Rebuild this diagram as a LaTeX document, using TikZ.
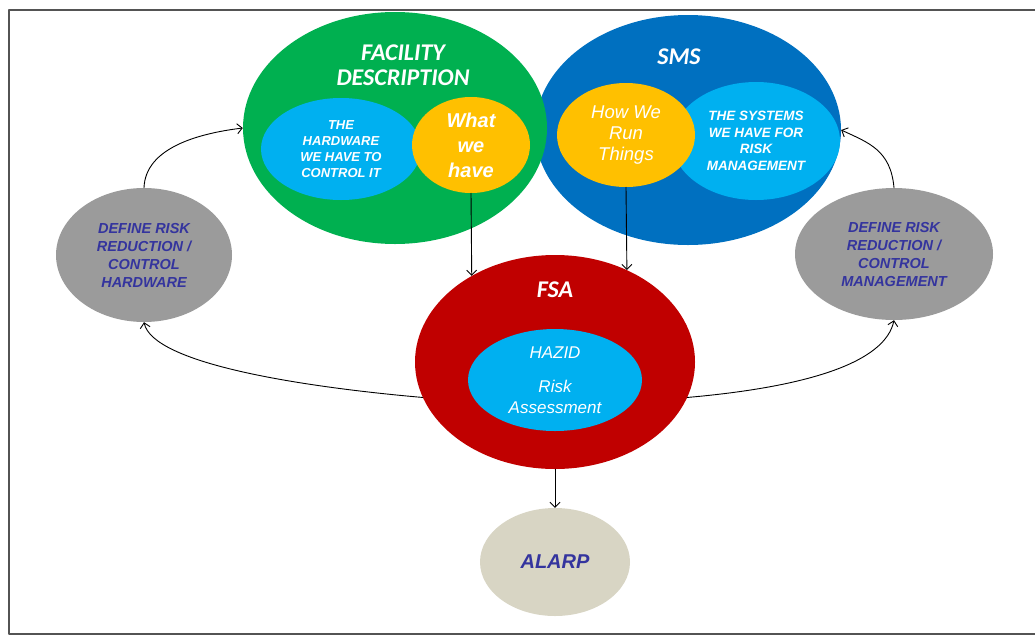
\documentclass[tikz,border=0pt]{standalone}
\usepackage{fontspec}
\setmainfont{Liberation Sans}
\newfontfamily\calfont{Carlito}
\usepackage{xcolor}
\usetikzlibrary{positioning,shapes.geometric,arrows.meta}

\definecolor{xanhla}{RGB}{0,176,80}
\definecolor{xanhdam}{RGB}{0,112,192}
\definecolor{xanhnhat}{RGB}{0,176,240}
\definecolor{vang}{RGB}{255,192,0}
\definecolor{maudo}{RGB}{192,0,0}
\definecolor{xam}{RGB}{155,155,155}
\definecolor{be}{RGB}{216,213,196}
\definecolor{chutim}{RGB}{52,52,158}

\begin{document}
\begin{tikzpicture}[x=1pt,y=1pt, line cap=round, line join=round]
	\useasboundingbox (0,0) rectangle (1035,-635);
	
	% ===== style =====
	\tikzset{
		elip/.style={ellipse, inner sep=0pt, draw=none, align=center},
		tieude/.style={text=white, align=center, font=\calfont\bfseries\itshape\fontsize{24}{25}\selectfont},
		chunho/.style={text=white, font=\bfseries\itshape\fontsize{13}{16}\selectfont},
		chuxam/.style={text=chutim, font=\bfseries\itshape\fontsize{14.5}{18}\selectfont},
		noi/.style={-{Straight Barb[length=5pt,width=10pt]}, black, line width=0.9pt},
	}
	
	% ===== khung =====
	\draw[gray!65!black, line width=1.6pt] (1035,-10) -- (9,-10) -- (9,-634) -- (1035,-634);
	
	% ===== SMS (xanh dam) + FACILITY (xanh la) =====
	\node[elip, fill=xanhdam, minimum width=306, minimum height=230] (sms) at (688,-130) {};
	\node[elip, fill=xanhla, minimum width=304, minimum height=232] (fac) at (395,-128) {};
	
	\node[tieude] (facT) at (403,-65.5) {FACILITY\\DESCRIPTION};
	\node[tieude] (smsT) at (679,-57) {SMS};
	
	% hinh trong FACILITY
	\node[elip, fill=xanhnhat, minimum width=160, minimum height=102, chunho] (hw) at (341,-149)
		{THE\\HARDWARE\\WE HAVE TO\\CONTROL IT};
	\node[elip, fill=vang, minimum width=118, minimum height=96, text=white,
		font=\bfseries\itshape\fontsize{20}{25}\selectfont] (what) at (471,-145) {What\\we\\have};
	
	% hinh trong SMS
	\node[elip, fill=xanhnhat, minimum width=168, minimum height=118, chunho,
		font=\bfseries\itshape\fontsize{13.5}{16.5}\selectfont] (sys) at (756,-141)
		{THE SYSTEMS\\WE HAVE FOR\\RISK\\MANAGEMENT};
	\node[elip, fill=vang, minimum width=138, minimum height=104, text=white,
		font=\itshape\fontsize{18.5}{21}\selectfont] (how) at (626,-135) {How We\\Run\\Things};
	
	% ===== hai elip xam =====
	\node[elip, fill=xam, minimum width=176, minimum height=134, chuxam] (lg) at (144,-255)
		{DEFINE RISK\\REDUCTION /\\CONTROL\\HARDWARE};
	\node[elip, fill=xam, minimum width=198, minimum height=132, chuxam] (rg) at (894,-254)
		{DEFINE RISK\\REDUCTION /\\CONTROL\\MANAGEMENT};
	
	% ===== FSA =====
	\node[elip, fill=maudo, minimum width=280, minimum height=214] (fsa) at (555,-362) {};
	\node[tieude] (fsaT) at (555,-290) {FSA};
	\node[elip, fill=xanhnhat, minimum width=174, minimum height=102] (hazid) at (555,-380) {};
	\node[text=white, font=\itshape\fontsize{17}{21}\selectfont] (hazT) at (555,-353) {HAZID};
	\node[text=white, align=center, font=\itshape\fontsize{17}{21}\selectfont] (riskT) at (555,-396.5)
		{Risk\\Assessment};
	
	% ===== ALARP =====
	\node[elip, fill=be, minimum width=150, minimum height=108, text=chutim,
		font=\bfseries\itshape\fontsize{20}{24}\selectfont] (alarp) at (555,-562) {ALARP};
	
	% ===== mui ten =====
	\draw[noi] (what.south) -- (fsa.134.7);
	\draw[noi] (how.south) -- (fsa.52.3);
	\draw[noi] (fsa.south) -- (alarp.north);
	
	% vong trai
	\draw[noi] (fsa.195) to[out=175, in=-78, out distance=125, in distance=42] (lg.south);
	\draw[noi] (lg.north) to[out=88, in=187, out distance=40, in distance=45] (fac.west);
	
	% vong phai
	\draw[noi] (fsa.-15) to[out=5, in=-102, out distance=125, in distance=42] (rg.south);
	\draw[noi] (rg.north) to[out=95, in=-25, out distance=38, in distance=30] (sms.east);
	
\end{tikzpicture}
\end{document}
